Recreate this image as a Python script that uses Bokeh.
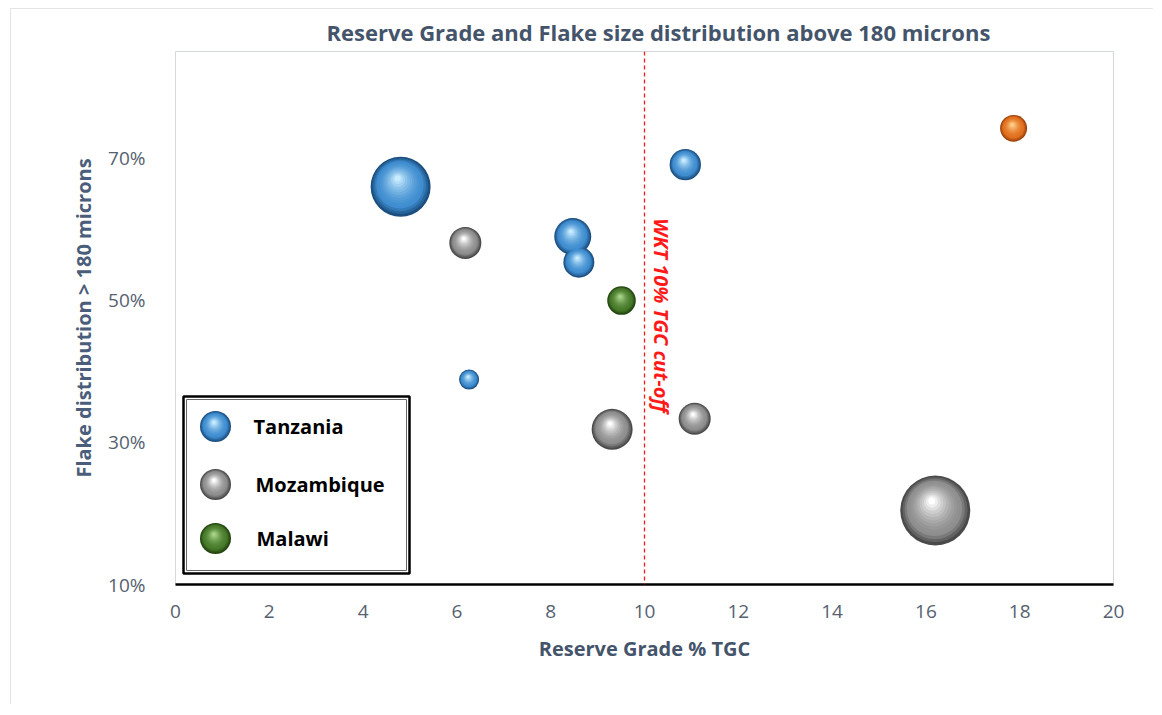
import numpy as np
from bokeh.plotting import figure
from bokeh.models import Range1d, FixedTicker, NumeralTickFormatter, Span
from bokeh.core.properties import value
from bokeh.embed import file_html
from bokeh.resources import INLINE

# ---------------- data ----------------
title_text = "Reserve Grade and Flake size distribution above 180 microns"
x_label = "Reserve Grade % TGC"
y_label = "Flake distribution > 180 microns"
cutoff_grade = 10.0
cutoff_label = "WKT 10% TGC cut-off"

tanzania_grade = [4.80, 10.87, 8.47, 8.60, 6.26]
tanzania_flake = [0.659, 0.690, 0.589, 0.553, 0.388]
tanzania_size = [9.0, 2.46, 3.42, 2.40, 1.0]

mozambique_grade = [6.18, 9.31, 11.07, 16.20]
mozambique_flake = [0.580, 0.318, 0.333, 0.204]
mozambique_size = [2.56, 4.2, 2.56, 12.25]

malawi_grade = [9.51]
malawi_flake = [0.499]
malawi_size = [2.04]

other_grade = [17.87]
other_flake = [0.741]
other_size = [1.82]

legend_labels = ["Tanzania", "Mozambique", "Malawi"]
x_ticks = [0, 2, 4, 6, 8, 10, 12, 14, 16, 18, 20]
y_ticks = [0.10, 0.30, 0.50, 0.70]

# ---------------- styles ----------------
FONT = "Open Sans"
SLATE = "#44546a"
TICK_COLOR = "#56616f"
PALETTES = {
    "Tanzania": ("#1c4f80", "#3f8dd0", "#c8ecff"),
    "Mozambique": ("#4a4a4a", "#8e8e8e", "#ffffff"),
    "Malawi": ("#22440f", "#477a2a", "#a9d48a"),
    "Other": ("#9a420c", "#e2701f", "#ffd08a"),
}

FRAME_W, FRAME_H = 938, 533
X0, X1 = 0.0, 20.0
Y0, Y1 = 0.10, 0.849
PX_X = FRAME_W / (X1 - X0)
PX_Y = FRAME_H / (Y1 - Y0)

p = figure(frame_width=FRAME_W, frame_height=FRAME_H,
           x_range=Range1d(X0, X1), y_range=Range1d(Y0, Y1),
           output_backend="svg", toolbar_location=None,
           min_border_left=164, min_border_right=40,
           min_border_top=39, min_border_bottom=120,
           title=title_text)
p.styles = {"margin-left": "10px", "margin-top": "8px",
            "border-left": "1px solid #e4e4e4", "border-top": "1px solid #e4e4e4"}

p.title.text_font = FONT
p.title.text_font_size = "22px"
p.title.text_font_style = "bold"
p.title.text_color = SLATE
p.title.align = "left"
p.title.offset = 151
p.title.standoff = 10

p.xgrid.visible = False
p.ygrid.visible = False
p.outline_line_color = "#d4d9df"
p.outline_line_width = 1
p.background_fill_color = "white"
p.border_fill_color = "white"

xa = p.xaxis[0]
xa.ticker = FixedTicker(ticks=x_ticks)
xa.axis_line_color = "black"
xa.axis_line_width = 2.5
xa.major_tick_line_color = None
xa.minor_tick_line_color = None
xa.major_label_text_font = FONT
xa.major_label_text_font_size = "19px"
xa.major_label_text_color = TICK_COLOR
xa.major_label_standoff = 14
xa.axis_label = x_label
xa.axis_label_text_font = FONT
xa.axis_label_text_font_size = "20px"
xa.axis_label_text_font_style = "bold"
xa.axis_label_text_color = SLATE
xa.axis_label_standoff = 14

ya = p.yaxis[0]
ya.ticker = FixedTicker(ticks=y_ticks)
ya.formatter = NumeralTickFormatter(format="0%")
ya.axis_line_color = None
ya.major_tick_line_color = None
ya.minor_tick_line_color = None
ya.major_label_text_font = FONT
ya.major_label_text_font_size = "19px"
ya.major_label_text_color = TICK_COLOR
ya.major_label_standoff = 24
ya.axis_label = y_label
ya.axis_label_text_font = FONT
ya.axis_label_text_font_size = "20px"
ya.axis_label_text_font_style = "bold"
ya.axis_label_text_color = "#4a5d7a"
ya.axis_label_standoff = 8


def mix(c1, c2, t):
    a = np.array([int(c1[i:i + 2], 16) for i in (1, 3, 5)], float)
    b = np.array([int(c2[i:i + 2], 16) for i in (1, 3, 5)], float)
    c = a + (b - a) * t
    return "#%02x%02x%02x" % tuple(int(round(v)) for v in c)


def spheres(xs, ys, radii, pal, n=14):
    edge, base, hi = pal
    xs = np.asarray(xs, float)
    ys = np.asarray(ys, float)
    r = np.asarray(radii, float)
    for k in range(n):
        t = k / (n - 1)
        f = 1 - 0.9 * t
        dx = -0.10 * r * t / PX_X
        dy = 0.27 * r * t / PX_Y
        if t < 0.22:
            col = mix(edge, base, t / 0.22)
        else:
            col = mix(base, hi, ((t - 0.22) / 0.78) ** 1.6)
        p.scatter(xs + dx, ys + dy, size=2 * r * f, fill_color=col,
                  line_color=None, marker="circle")


def radius_px(sizes):
    return 10.0 * np.sqrt(np.asarray(sizes, float))


# cut-off line
p.add_layout(Span(location=cutoff_grade, dimension="height", line_color="#ff1a1a",
                  line_dash="4 3", line_width=1.3))

spheres(tanzania_grade, tanzania_flake, radius_px(tanzania_size), PALETTES["Tanzania"])
spheres(mozambique_grade, mozambique_flake, radius_px(mozambique_size), PALETTES["Mozambique"])
spheres(malawi_grade, malawi_flake, radius_px(malawi_size), PALETTES["Malawi"])
spheres(other_grade, other_flake, radius_px(other_size), PALETTES["Other"])

# cut-off label
p.text(x=[cutoff_grade + 17 / PX_X], y=[Y1 - 264 / PX_Y], text=[cutoff_label],
       angle=-np.pi / 2, text_align="center", text_baseline="middle",
       text_color="#ff1a1a", text_font=value(FONT), text_font_size="20px",
       text_font_style="bold italic")

# manual legend box (screen offsets from frame corner)
lx0 = X0 + 8 / PX_X
lx1 = X0 + 234 / PX_X
ly0 = Y0 + 11 / PX_Y
ly1 = Y0 + 188 / PX_Y
p.quad(left=[lx0], right=[lx1], bottom=[ly0], top=[ly1], fill_color="white",
       line_color="black", line_width=2.5)
p.quad(left=[lx0 + 3 / PX_X], right=[lx1 - 3 / PX_X], bottom=[ly0 + 3 / PX_Y],
       top=[ly1 - 3 / PX_Y], fill_color=None, line_color="#666666", line_width=1)

row_offsets = [158, 100, 46]
text_dx = [78, 80, 81]
for lab, off, tdx in zip(legend_labels, row_offsets, text_dx):
    yy = Y0 + off / PX_Y
    spheres([X0 + 40 / PX_X], [yy], [15.5], PALETTES[lab])
    p.text(x=[X0 + tdx / PX_X], y=[yy], text=[lab], text_align="left",
           text_baseline="middle", text_color="black", text_font=value(FONT),
           text_font_size="20px", text_font_style="bold")

open("out.html", "w").write(file_html(p, INLINE))
